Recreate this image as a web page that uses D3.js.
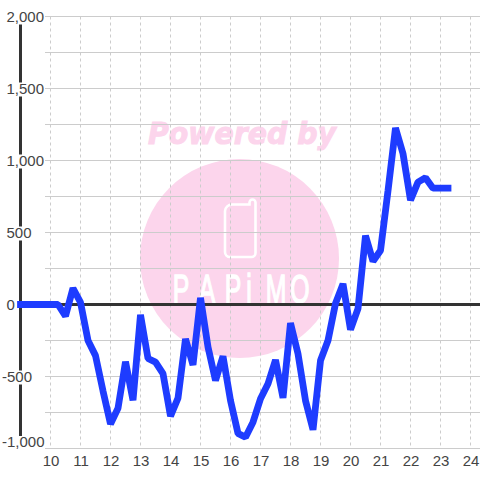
<!DOCTYPE html>
<html><head><meta charset="utf-8">
<script src="https://cdn.jsdelivr.net/npm/d3@7"></script>
<style>html,body{margin:0;padding:0;background:#fff}svg{display:block}</style>
</head><body><svg id="c" width="480" height="480"></svg>
<script>
const hourTicks = [10,11,12,13,14,15,16,17,18,19,20,21,22,23,24];
const labelTicks = [2000,1500,1000,500,0,-500,-1000];
const gridTicks = [2000,1750,1500,1250,1000,750,500,250,0,-250,-500,-750,-1000];
const hours = [9,9.25,9.5,9.75,10,10.25,10.5,10.75,11,11.25,11.5,11.75,12,12.25,12.5,12.75,13,13.25,13.5,13.75,14,14.25,14.5,14.75,15,15.25,15.5,15.75,16,16.25,16.5,16.75,17,17.25,17.5,17.75,18,18.25,18.5,18.75,19,19.25,19.5,19.75,20,20.25,20.5,20.75,21,21.25,21.5,21.75,22,22.25,22.5,22.75,23,23.25];
const profit = [0,0,0,0,0,0,-80,113,15,-250,-355,-600,-830,-720,-397,-665,-72,-375,-400,-480,-775,-650,-239,-420,46,-295,-528,-359,-667,-895,-922,-817,-655,-550,-385,-648,-129,-342,-667,-870,-389,-250,7,143,-175,-28,478,300,375,790,1226,1048,725,850,880,808,808,808];

const svg = d3.select("#c");
const x = d3.scaleLinear().domain([9,25]).range([20.5,500.5]);
const y = d3.scaleLinear().domain([-1000,2000]).range([448.5,16.5]);
const fmt = v => d3.format(",")(v).replace("\u2212","-");

// watermark
const pink = "#fcd5ec";
const wm = svg.append("g");
wm.append("text").text("Powered by").attr("x",148).attr("y",144)
  .attr("textLength",188).attr("lengthAdjust","spacingAndGlyphs")
  .attr("font-family","DejaVu Sans").attr("font-weight","bold").attr("font-style","italic")
  .attr("font-size",29.5).attr("fill",pink).attr("stroke",pink).attr("stroke-width",1);
wm.append("circle").attr("cx",239.5).attr("cy",258.5).attr("r",99.5).attr("fill",pink);
wm.append("path")
  .attr("d","M232 204.5H249.5V202.5a3 3 0 0 1 6 0V253a4 4 0 0 1-4 4H230a5 5 0 0 1-5-5V211a7 7 0 0 1 7-6.5Z")
  .attr("fill","none").attr("stroke","#fff").attr("stroke-width",2.6);
const logo = [["P",181],["A",207],["P",233],["i",249],["M",276],["O",300]];
wm.selectAll("text.logo").data(logo).join("text").attr("class","logo").text(d=>d[0])
  .attr("transform",d=>`translate(${d[1]},303) scale(0.62,1)`)
  .attr("text-anchor","middle").attr("font-family","Liberation Sans").attr("font-size",40)
  .attr("fill","#fff").attr("stroke","#fff").attr("stroke-width",1.4);

// grid
svg.append("g")
  .attr("transform","translate(0,16.5)")
  .call(d3.axisBottom(x).offset(0).tickValues(hourTicks).tickSize(432).tickFormat(""))
  .call(g=>g.select(".domain").remove())
  .call(g=>g.selectAll("line").attr("stroke","#ccc").attr("stroke-dasharray","3 3"));
svg.append("g").attr("transform","translate(45,0)")
  .call(d3.axisRight(y).offset(0).tickValues(gridTicks).tickSize(435).tickFormat(""))
  .call(g=>g.select(".domain").remove())
  .call(g=>g.selectAll("line").attr("stroke","#ccc"));

// axes
svg.append("line").attr("x1",x(9)).attr("x2",480).attr("y1",y(0)).attr("y2",y(0))
  .attr("stroke","#333").attr("stroke-width",3);
svg.append("line").attr("x1",x(9)).attr("x2",x(9)).attr("y1",y(2000)).attr("y2",y(-1000))
  .attr("stroke","#333").attr("stroke-width",3);

// series
const line = d3.line().x((d,i)=>x(hours[i])).y(d=>y(d));
svg.append("path").datum(profit).attr("d",line).attr("fill","none")
  .attr("stroke","#1e3cff").attr("stroke-width",6.8)
  .attr("stroke-linecap","square").attr("stroke-linejoin","bevel");

// y labels
const yAxis = svg.append("g")
  .call(d3.axisLeft(y).offset(0).tickValues(labelTicks).tickSize(0).tickFormat(fmt));
yAxis.select(".domain").remove();
yAxis.selectAll("text")
  .attr("font-family","Liberation Sans").attr("font-size",15).attr("fill","#444")
  .attr("text-anchor","start").attr("dy",null)
  .attr("x",d=>d<0?2:6.5)
  .attr("y",d=>d===-1000?-1.5:5);
yAxis.selectAll(".tick").each(function(d){
  const t = d3.select(this), b = t.select("text").node().getBBox();
  const base = d===-1000?-1.5:5;
  t.insert("rect","text").attr("x",b.x).attr("width",b.width)
    .attr("y",base-11).attr("height",14).attr("fill","#fff");
});

// x labels
const xAxis = svg.append("g")
  .call(d3.axisBottom(x).offset(0).tickValues(hourTicks).tickSize(0).tickFormat(d3.format("d")));
xAxis.select(".domain").remove();
xAxis.selectAll("text")
  .attr("font-family","Liberation Sans").attr("font-size",15).attr("fill","#444")
  .attr("dy",null).attr("y",466).attr("dx",0.5);
</script></body></html>
